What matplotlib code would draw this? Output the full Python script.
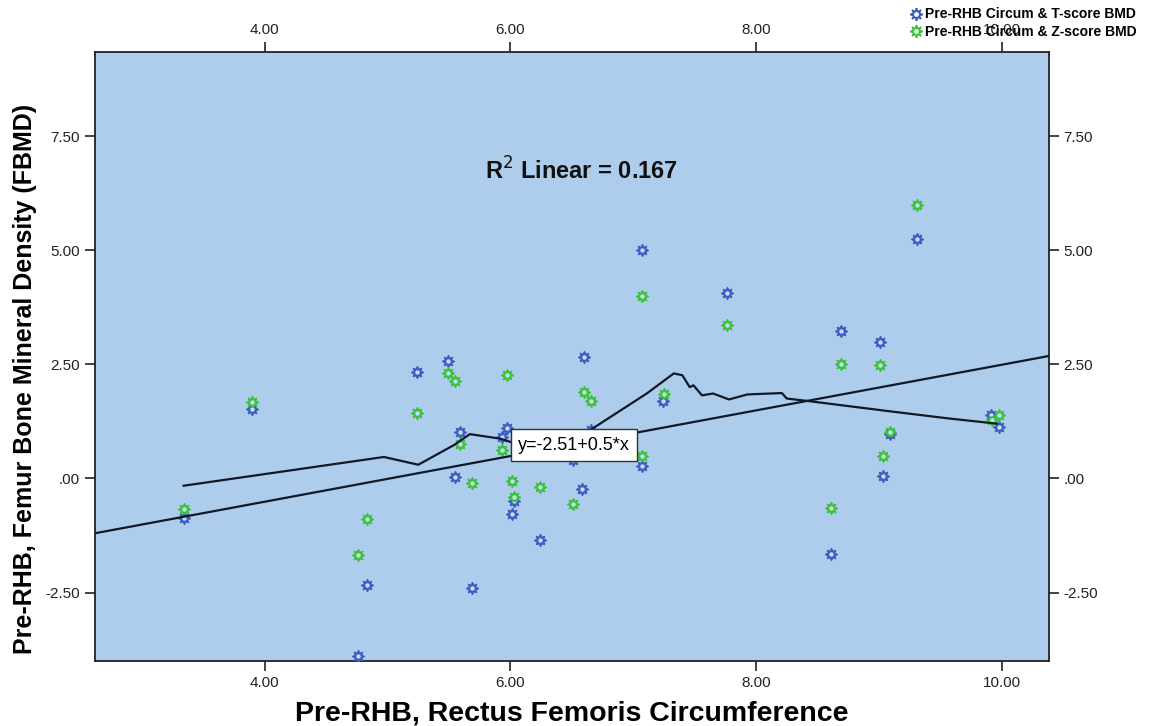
import matplotlib
matplotlib.use("Agg")
import matplotlib.pyplot as plt
from matplotlib.ticker import FuncFormatter, FixedLocator
from matplotlib.lines import Line2D
from matplotlib.legend_handler import HandlerTuple

plt.rcParams['font.family'] = ['Liberation Sans', 'DejaVu Sans']

# ---- data ----
t_circ = [3.34, 3.90, 4.76, 4.83, 5.24, 5.49, 5.55, 5.59, 5.69, 5.93, 5.97, 6.01, 6.03, 6.24, 6.51,
          6.58, 6.60, 6.66, 7.07, 7.07, 7.24, 7.76, 8.61, 8.69, 9.01, 9.03, 9.09, 9.31, 9.91, 9.98]
t_score = [-0.87, 1.52, -3.90, -2.33, 2.33, 2.575, 0.03, 1.02, -2.40, 0.90, 1.11, -0.785, -0.49, -1.35, 0.40,
           -0.24, 2.66, 1.07, 5.00, 0.27, 1.69, 4.07, -1.65, 3.22, 2.99, 0.06, 0.97, 5.24, 1.385, 1.13]

z_circ = [3.34, 3.90, 4.76, 4.83, 5.24, 5.49, 5.55, 5.59, 5.69, 5.93, 5.97, 6.01, 6.03, 6.24, 6.51,
          6.57, 6.60, 6.66, 7.07, 7.07, 7.25, 7.76, 8.61, 8.69, 9.01, 9.03, 9.09, 9.31, 9.92, 9.98]
z_score = [-0.675, 1.68, -1.68, -0.89, 1.44, 2.31, 2.13, 0.75, -0.11, 0.63, 2.26, -0.06, -0.41, -0.19, -0.55,
           0.80, 1.90, 1.70, 4.00, 0.50, 1.86, 3.37, -0.65, 2.50, 2.49, 0.49, 1.01, 6.00, 1.29, 1.40]

# loess (smoothed) curve
loess_x = [3.34, 4.97, 5.25, 5.54, 5.67, 5.92, 6.08, 6.19, 6.46, 6.65, 7.11, 7.33, 7.40, 7.46, 7.49,
           7.56, 7.65, 7.78, 7.93, 8.21, 8.25, 8.44, 9.06, 9.58, 9.96]
loess_y = [-0.16, 0.47, 0.30, 0.73, 0.97, 0.87, 0.73, 0.65, 0.76, 1.06, 1.86, 2.30, 2.26, 2.00, 2.04,
           1.82, 1.86, 1.73, 1.84, 1.87, 1.75, 1.69, 1.48, 1.31, 1.20]

fit_intercept = -2.51
fit_slope = 0.5
r_squared = 0.167

x_ticks = [4.0, 6.0, 8.0, 10.0]
y_ticks = [-2.5, 0.0, 2.5, 5.0, 7.5]
x_range = (2.614, 10.385)
y_range = (-4.0, 9.34)

x_label = "Pre-RHB, Rectus Femoris Circumference"
y_label = "Pre-RHB, Femur Bone Mineral Density (FBMD)"
t_name = "Pre-RHB Circum & T-score BMD"
z_name = "Pre-RHB Circum & Z-score BMD"

# ---- styles ----
bg = '#AECDEC'
blue = '#3D5FC4'
green = '#3CC23C'
line_col = '#111827'

fig = plt.figure(figsize=(11.54, 7.26), dpi=100)
ax = fig.add_axes([0.0819, 0.0895, 0.8271, 0.8388])
ax.set_facecolor(bg)
ax.set_xlim(*x_range)
ax.set_ylim(*y_range)


def star_points(x, y, col):
    ax.scatter(x, y, marker=(8, 2, 0), s=60, color=col, linewidths=1.3, zorder=3)
    ax.scatter(x, y, marker='o', s=24, facecolor='#C9DDF0', edgecolor=col, linewidths=1.7, zorder=4)


star_points(t_circ, t_score, blue)
star_points(z_circ, z_score, green)

# linear fit line across the axis
xs = list(x_range)
ax.plot(xs, [fit_intercept + fit_slope * v for v in xs], color=line_col, lw=1.6, zorder=5)
# loess curve
ax.plot(loess_x, loess_y, color=line_col, lw=1.6, zorder=5)

ax.text(6.06, 0.73, "y=%.2f+%.1f*x" % (fit_intercept, fit_slope), fontsize=13, color='black',
        ha='left', va='center', zorder=6,
        bbox=dict(boxstyle='square,pad=0.4', facecolor='white', edgecolor='#333333', lw=1.0))
ax.text(6.58, 6.73, r"R$^{2}$ Linear = %.3f" % r_squared, fontsize=17, ha='center', va='center',
        color='#111111', fontweight='bold', zorder=6)

fmt = FuncFormatter(lambda v, p: ".00" if abs(v) < 1e-9 else "%.2f" % v)
ax.xaxis.set_major_locator(FixedLocator(x_ticks))
ax.yaxis.set_major_locator(FixedLocator(y_ticks))
ax.xaxis.set_major_formatter(fmt)
ax.yaxis.set_major_formatter(fmt)
ax.tick_params(axis='both', which='major', direction='out', length=7, width=1.2, labelsize=11,
               top=True, right=True, labeltop=True, labelright=True, colors='#222222')
for s in ax.spines.values():
    s.set_linewidth(1.3)
    s.set_color('#222222')

ax.set_xlabel(x_label, fontsize=20.5, fontweight='bold', labelpad=8)
ax.set_ylabel(y_label, fontsize=18, fontweight='bold', labelpad=7)
ax.yaxis.set_label_coords(-0.06, 0.463)


def legend_handle(col):
    return (Line2D([], [], ls='none', marker=(8, 2, 0), ms=9, mec=col, mew=1.3),
            Line2D([], [], ls='none', marker='o', ms=5, mfc='white', mec=col, mew=1.5))


fig.legend([legend_handle(blue), legend_handle(green)], [t_name, z_name],
           handler_map={tuple: HandlerTuple(ndivide=1, pad=0)},
           loc='upper right', bbox_to_anchor=(0.995, 1.005), frameon=False,
           prop={'weight': 'bold', 'size': 10}, handlelength=0.8, handletextpad=0.3,
           labelspacing=0.25, borderpad=0.3)

fig.savefig('out.png', dpi=100)
